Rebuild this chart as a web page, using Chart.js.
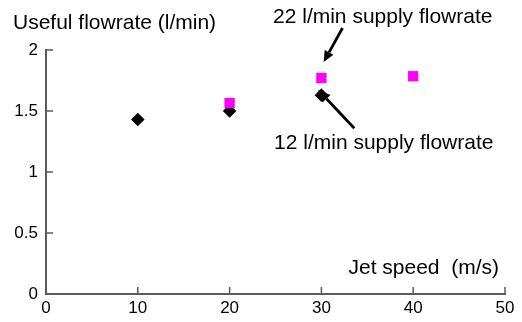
<!DOCTYPE html>
<html>
<head>
<meta charset="utf-8">
<script src="https://cdn.jsdelivr.net/npm/chart.js@4/dist/chart.umd.min.js"></script>
<style>
html,body{margin:0;padding:0;background:#fff;}
#wrap{width:522px;height:322px;position:relative;}
</style>
</head>
<body>
<div id="wrap"><canvas id="c" width="522" height="322"></canvas></div>
<script>
// ---- data ----
const speed12 = [10, 20, 30];
const flow12 = [1.43, 1.50, 1.63];
const speed22 = [20, 30, 40];
const flow22 = [1.565, 1.77, 1.785];
const xTicks = [0, 10, 20, 30, 40, 50];
const yTicks = [0, 0.5, 1, 1.5, 2];
const label12 = '12 l/min supply flowrate';
const label22 = '22 l/min supply flowrate';
const xTitle = 'Jet speed  (m/s)';
const yTitle = 'Useful flowrate (l/min)';

const FONT = '"Liberation Sans", Arial, sans-serif';
const AXIS_COLOR = '#5a5a5a';

function toPts(xs, ys){ return xs.map((x,i)=>({x:x, y:ys[i]})); }

const annotations = {
  id: 'annotations',
  afterDraw(chart){
    const ctx = chart.ctx;
    const xs = chart.scales.x, ys = chart.scales.y;
    const ca = chart.chartArea;
    const px = v => xs.getPixelForValue(v);
    const py = v => ys.getPixelForValue(v);
    ctx.save();
    // inward tick marks
    ctx.strokeStyle = AXIS_COLOR;
    ctx.lineWidth = 1.5;
    ctx.beginPath();
    xTicks.forEach(t => { if (t === 0) return; const x = px(t); ctx.moveTo(x, ca.bottom); ctx.lineTo(x, ca.bottom - 7); });
    yTicks.forEach(t => { if (t === 0) return; const y = py(t); ctx.moveTo(ca.left, y); ctx.lineTo(ca.left + 7, y); });
    ctx.stroke();

    // texts
    ctx.fillStyle = '#000';
    ctx.textBaseline = 'middle';
    ctx.font = '21px ' + FONT;
    ctx.textAlign = 'left';
    ctx.fillText(yTitle, 13, 23);
    ctx.fillText(label22, px(24.73), py(2.27));
    ctx.fillText(label12, px(24.84), py(1.235));
    ctx.textAlign = 'right';
    ctx.fillText(xTitle, px(49.35), py(0.213));

    // arrows
    function arrow(x1, y1, x2, y2, headLen, headW){
      const X1 = px(x1), Y1 = py(y1), X2 = px(x2), Y2 = py(y2);
      const ang = Math.atan2(Y2 - Y1, X2 - X1);
      const bx = X2 - Math.cos(ang) * headLen, by = Y2 - Math.sin(ang) * headLen;
      ctx.strokeStyle = '#000';
      ctx.lineWidth = 2.8;
      ctx.beginPath(); ctx.moveTo(X1, Y1); ctx.lineTo(bx, by); ctx.stroke();
      ctx.fillStyle = '#000';
      ctx.beginPath();
      ctx.moveTo(X2, Y2);
      ctx.lineTo(bx + Math.sin(ang) * headW, by - Math.cos(ang) * headW);
      ctx.lineTo(bx - Math.sin(ang) * headW, by + Math.cos(ang) * headW);
      ctx.closePath();
      ctx.fill();
    }
    arrow(32.3, 2.18, 30.25, 1.902, 11, 5);
    arrow(33.58, 1.358, 29.66, 1.672, 12, 5.5);
    ctx.restore();
  }
};

new Chart(document.getElementById('c'), {
  type: 'scatter',
  data: {
    datasets: [
      {
        label: label22,
        data: toPts(speed22, flow22),
        pointStyle: 'rect',
        pointRadius: 7.3,
        pointHoverRadius: 7.3,
        backgroundColor: '#ff00ff',
        borderColor: '#ff00ff',
        borderWidth: 0
      },
      {
        label: label12,
        data: toPts(speed12, flow12),
        pointStyle: 'rectRot',
        pointRadius: 6.8,
        pointHoverRadius: 6.8,
        backgroundColor: '#000',
        borderColor: '#000',
        borderWidth: 0
      }
    ]
  },
  options: {
    responsive: false,
    animation: false,
    events: [],
    layout: { padding: { left: 0, top: 50, right: 17, bottom: 0 } },
    plugins: { legend: { display: false }, tooltip: { enabled: false }, title: { display: false } },
    scales: {
      x: {
        type: 'linear',
        min: 0, max: 50,
        afterBuildTicks(s){ s.ticks = xTicks.map(v => ({value: v})); },
        afterFit(s){ s.height = 28; },
        grid: { display: false, drawTicks: false },
        border: { display: true, color: AXIS_COLOR, width: 2 },
        ticks: { color: '#000', font: { family: FONT, size: 17 }, padding: 4, maxRotation: 0, autoSkip: false,
                 callback: v => String(v) }
      },
      y: {
        type: 'linear',
        min: 0, max: 2,
        afterBuildTicks(s){ s.ticks = yTicks.map(v => ({value: v})); },
        afterFit(s){ s.width = 46; },
        grid: { display: false, drawTicks: false },
        border: { display: true, color: AXIS_COLOR, width: 2 },
        ticks: { color: '#000', font: { family: FONT, size: 17 }, padding: 8, autoSkip: false,
                 callback: v => String(v) }
      }
    }
  },
  plugins: [annotations]
});
</script>
</body>
</html>
